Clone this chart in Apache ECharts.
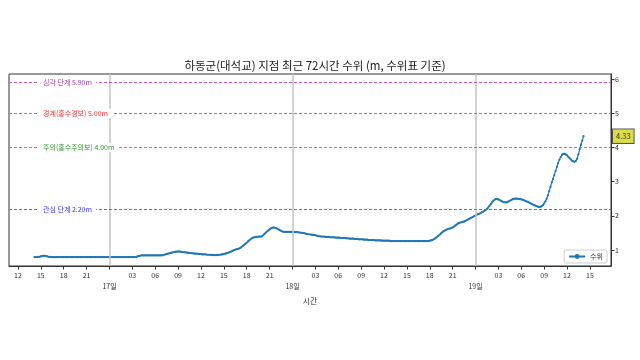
<!DOCTYPE html>
<html><head><meta charset="utf-8">
<script src="https://cdn.jsdelivr.net/npm/echarts@6/dist/echarts.min.js"></script>
<style>html,body{margin:0;padding:0;background:#fff}#c{width:640px;height:360px}</style>
</head><body><div id="c"></div>
<script>
// Hours counted from day 16, 00:00. Samples every 10 minutes starting 16일 14:10.
const startHour = 14 + 10/60;
const stepHour = 1/6;
const waterLevel = [
 0.79,0.79,0.79,0.80,0.80,
 0.81,0.82,0.83,0.83,0.82,0.81,
 0.80,0.80,0.79,0.79,0.79,0.79,
 0.79,0.79,0.79,0.79,0.79,0.79,
 0.79,0.79,0.79,0.79,0.79,0.79,
 0.79,0.79,0.79,0.79,0.79,0.79,
 0.79,0.79,0.79,0.79,0.79,0.79,
 0.79,0.79,0.79,0.79,0.79,0.79,
 0.79,0.79,0.79,0.79,0.79,0.79,
 0.79,0.79,0.79,0.79,0.79,0.79,
 0.79,0.79,0.79,0.79,0.79,0.79,
 0.79,0.79,0.79,0.79,0.79,0.79,
 0.79,0.79,0.79,0.79,0.79,0.79,
 0.79,0.79,0.79,0.80,0.81,0.82,
 0.83,0.84,0.84,0.84,0.84,0.84,
 0.84,0.84,0.84,0.84,0.84,0.84,
 0.84,0.84,0.84,0.84,0.84,0.84,
 0.85,0.86,0.87,0.88,0.89,0.90,
 0.91,0.92,0.93,0.94,0.95,0.95,
 0.96,0.95,0.95,0.94,0.94,0.93,
 0.93,0.92,0.92,0.91,0.91,0.90,
 0.90,0.89,0.89,0.89,0.88,0.88,
 0.88,0.87,0.87,0.87,0.87,0.86,
 0.86,0.86,0.86,0.85,0.85,0.85,
 0.85,0.85,0.86,0.86,0.87,0.87,
 0.88,0.89,0.90,0.91,0.93,0.94,
 0.96,0.98,0.99,1.01,1.02,1.03,
 1.04,1.06,1.09,1.12,1.15,1.18,
 1.21,1.25,1.28,1.31,1.34,1.36,
 1.37,1.38,1.38,1.39,1.39,1.39,
 1.40,1.43,1.47,1.51,1.54,1.57,
 1.60,1.63,1.65,1.66,1.65,1.64,
 1.62,1.60,1.58,1.56,1.54,1.53,
 1.53,1.53,1.53,1.53,1.53,1.53,
 1.53,1.53,1.52,1.52,1.52,1.51,
 1.51,1.50,1.50,1.49,1.48,1.47,
 1.46,1.46,1.45,1.45,1.44,1.44,
 1.43,1.42,1.41,1.40,1.40,1.39,
 1.39,1.39,1.38,1.38,1.38,1.38,
 1.37,1.37,1.37,1.37,1.36,1.36,
 1.36,1.36,1.35,1.35,1.35,1.35,
 1.34,1.34,1.34,1.33,1.33,1.33,
 1.33,1.32,1.32,1.32,1.31,1.31,
 1.31,1.31,1.30,1.30,1.30,1.30,
 1.29,1.29,1.29,1.29,1.29,1.28,
 1.28,1.28,1.28,1.28,1.27,1.27,
 1.27,1.27,1.27,1.27,1.27,1.26,
 1.26,1.26,1.26,1.26,1.26,1.26,
 1.26,1.26,1.26,1.26,1.26,1.26,
 1.26,1.26,1.26,1.26,1.26,1.26,
 1.26,1.26,1.26,1.26,1.26,1.26,
 1.26,1.26,1.26,1.26,1.26,1.26,
 1.27,1.28,1.29,1.31,1.33,1.36,
 1.39,1.42,1.45,1.49,1.52,1.55,
 1.57,1.59,1.61,1.62,1.63,1.64,
 1.66,1.68,1.71,1.74,1.77,1.79,
 1.80,1.81,1.82,1.83,1.85,1.87,
 1.89,1.91,1.93,1.95,1.97,1.99,
 2.01,2.03,2.05,2.06,2.08,2.10,
 2.12,2.14,2.17,2.20,2.24,2.29,
 2.34,2.39,2.43,2.47,2.49,2.49,
 2.48,2.46,2.44,2.42,2.40,2.39,
 2.39,2.40,2.42,2.44,2.46,2.48,
 2.49,2.50,2.50,2.50,2.49,2.49,
 2.48,2.47,2.46,2.44,2.42,2.41,
 2.39,2.37,2.35,2.33,2.31,2.30,
 2.28,2.27,2.26,2.26,2.28,2.31,
 2.36,2.42,2.50,2.60,2.72,2.85,
 2.98,3.08,3.19,3.31,3.43,3.54,
 3.64,3.72,3.78,3.81,3.81,3.80,
 3.77,3.73,3.69,3.65,3.61,3.59,
 3.58,3.60,3.67,3.80,3.95,4.08,
 4.20,4.33
];
const thresholdValues = [5.9, 5.0, 4.0, 2.2];
const thresholdLabels = ['심각 단계 5.90m', '경계(홍수경보) 5.00m', '주의(홍수주의보) 4.00m', '관심 단계 2.20m'];
const thresholdLineColors = ['#c85ad0', '#ff5a5a', '#50b450', '#6666ff'];
const thresholdTextColors = ['#a03cb0', '#ff3030', '#2f9a2f', '#3535ff'];
const xTickHours = [12,15,18,21,24,27,30,33,36,39,42,45,48,51,54,57,60,63,66,69,72,75,78,81,84,87];
const xTickLabels = ['12','15','18','21',' \n17일','03','06','09','12','15','18','21',' \n18일','03','06','09','12','15','18','21',' \n19일','03','06','09','12','15'];
const dayBoundaries = [24, 48, 72];
const yTicks = [1, 2, 3, 4, 5, 6];
const seriesName = '수위';
const titleText = '하동군(대석교) 지점 최근 72시간 수위 (m, 수위표 기준)';
const xAxisName = '시간';

const FONT = '"Noto Sans CJK KR", "Noto Sans", sans-serif';
const data = waterLevel.map((v, i) => [startHour + i * stepHour, v]);
const lastVal = waterLevel[waterLevel.length - 1];

const markData = [];
dayBoundaries.forEach(d => {
  markData.push({ xAxis: d, lineStyle: { color: '#c4c4c4', type: 'solid', width: 1.5 }, label: { show: false } });
});
thresholdValues.forEach((v, i) => {
  markData.push({
    yAxis: v,
    lineStyle: { color: thresholdLineColors[i], type: [3, 2], width: 1.1 },
    label: {
      show: true, position: 'insideStart', distance: [30, 0],
      formatter: thresholdLabels[i], color: thresholdTextColors[i],
      fontSize: 7, fontFamily: FONT, backgroundColor: '#fff', padding: [1, 4]
    }
  });
});
markData.push({
  yAxis: lastVal,
  lineStyle: { color: 'rgba(0,0,0,0)', width: 1 },
  label: {
    show: true, position: 'end', distance: 2, formatter: lastVal.toFixed(2),
    color: '#333', fontSize: 7.5, fontFamily: FONT,
    backgroundColor: '#dcdc48', borderColor: '#555', borderWidth: 1, padding: [3, 3]
  }
});

const chart = echarts.init(document.getElementById('c'), null, { renderer: 'canvas' });
chart.setOption({
  animation: false,
  backgroundColor: '#fff',
  title: {
    text: titleText, left: 310, top: 55, textAlign: 'center',
    textStyle: { fontSize: 11.5, fontWeight: 'normal', color: '#222', fontFamily: FONT }
  },
  legend: {
    data: [seriesName], right: 33, bottom: 97, orient: 'vertical',
    itemWidth: 16, itemHeight: 6, itemGap: 2, padding: [3, 4],
    borderColor: '#cfcfcf', borderWidth: 1, borderRadius: 2, backgroundColor: '#fff',
    textStyle: { fontSize: 7, color: '#333', fontFamily: FONT }
  },
  grid: { left: 9, right: 29, top: 74, bottom: 94, show: true, borderColor: '#333', borderWidth: 1, backgroundColor: 'transparent' },
  xAxis: {
    type: 'value', min: 10.82, max: 89.77,
    name: xAxisName, nameLocation: 'middle', nameGap: 22,
    nameTextStyle: { fontSize: 8, color: '#333', fontFamily: FONT },
    axisLine: { show: true, lineStyle: { color: '#333', width: 1 } },
    axisTick: { show: true, length: 3.5, lineStyle: { color: '#333' }, customValues: xTickHours },
    splitLine: { show: false },
    axisLabel: {
      fontSize: 7, color: '#333', fontFamily: FONT, margin: 4, lineHeight: 11,
      customValues: xTickHours,
      formatter: v => {
        const idx = xTickHours.findIndex(t => Math.abs(t - v) < 1e-6);
        return idx >= 0 ? xTickLabels[idx] : '';
      }
    }
  },
  yAxis: {
    type: 'value', position: 'right', min: 0.53, max: 6.15,
    axisLine: { show: true, lineStyle: { color: '#333', width: 1 } },
    axisTick: { show: true, length: 3.5, lineStyle: { color: '#333' }, customValues: yTicks },
    splitLine: { show: false },
    axisLabel: {
      fontSize: 7, color: '#333', fontFamily: FONT, margin: 4,
      customValues: yTicks,
      formatter: v => (yTicks.some(t => Math.abs(t - v) < 1e-6) ? String(Math.round(v)) : '')
    }
  },
  series: [{
    name: seriesName, type: 'line', data: data,
    showSymbol: true, showAllSymbol: true, symbol: 'circle', symbolSize: 2.2,
    itemStyle: { color: '#1f77b4' },
    lineStyle: { color: '#1f77b4', width: 1.2 },
    clip: true,
    markLine: { silent: true, symbol: ['none', 'none'], animation: false, data: markData }
  }]
});
</script>
</body></html>
